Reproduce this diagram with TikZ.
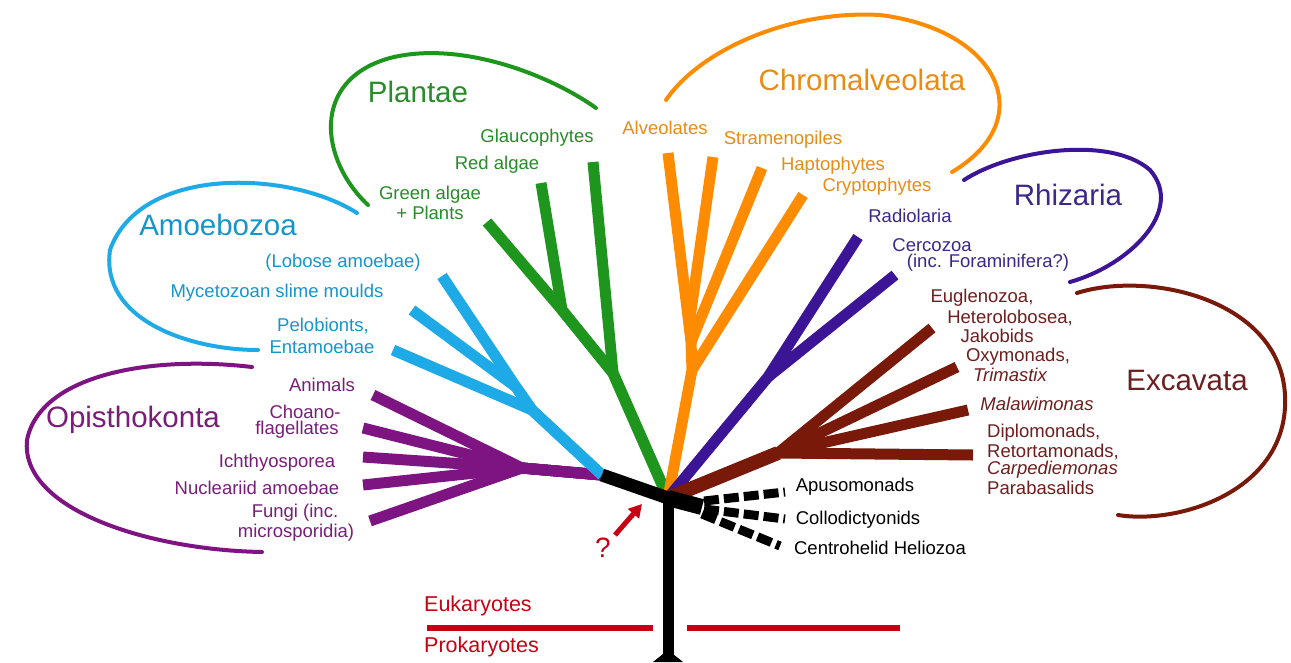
\documentclass[tikz,border=0pt]{standalone}
\usepackage{fontspec}
\setmainfont{Liberation Sans}
\usetikzlibrary{arrows.meta}
\definecolor{cBlue}{RGB}{30,170,230}
\definecolor{tBlue}{RGB}{20,150,205}
\definecolor{cGreen}{RGB}{30,150,30}
\definecolor{tGreen}{RGB}{40,140,40}
\definecolor{cOrange}{RGB}{255,140,0}
\definecolor{tOrange}{RGB}{232,140,20}
\definecolor{cIndigo}{RGB}{60,20,150}
\definecolor{tIndigo}{RGB}{60,40,140}
\definecolor{cBrown}{RGB}{120,25,10}
\definecolor{tBrown}{RGB}{110,30,30}
\definecolor{cPurple}{RGB}{125,20,130}
\definecolor{tPurple}{RGB}{120,30,120}
\definecolor{cRed}{RGB}{200,0,20}
\begin{document}
\begin{tikzpicture}[x=1pt,y=-1pt,
  br/.style={line width=11pt,line join=round},
  cladearc/.style={line width=4pt,line cap=round},
  lab/.style={font=\fontsize{18.5}{18.5}\selectfont,inner sep=0pt},
  itlab/.style={font=\fontsize{18.5}{18.5}\selectfont\itshape,inner sep=0pt},
  big/.style={font=\fontsize{29.5}{30}\selectfont,inner sep=0pt},
  redlab/.style={font=\fontsize{21.5}{22}\selectfont,inner sep=0pt,text=cRed,anchor=west}]
\useasboundingbox (0,0) rectangle (1291,662);
\fill[white] (0,0) rectangle (1291,662);
% coordinates
\coordinate (R) at (668,498);
\coordinate (BL) at (602,475);
\coordinate (T) at (668,662);
\coordinate (PJ) at (522,468);
\coordinate (P1) at (373,395);
\coordinate (P2) at (363,428);
\coordinate (P3) at (363,457);
\coordinate (P4) at (363,485);
\coordinate (P5) at (370,521);
\coordinate (BJ) at (532,410);
\coordinate (MJ) at (516,387);
\coordinate (B1) at (442,276);
\coordinate (B2) at (412,310);
\coordinate (B3) at (393,350);
\coordinate (GJ1) at (613,373);
\coordinate (GJ2) at (562,310);
\coordinate (G1) at (593,162);
\coordinate (G2) at (541,183);
\coordinate (G3) at (487,222);
\coordinate (OJ1) at (692,370);
\coordinate (OJ2) at (691,342);
\coordinate (OJ3) at (689,325);
\coordinate (O1) at (668,153);
\coordinate (O2) at (713,157);
\coordinate (O3) at (762,168);
\coordinate (O4) at (803,195);
\coordinate (IJ) at (768,377);
\coordinate (I1) at (858,237);
\coordinate (I2) at (895,275);
\coordinate (EJ) at (778,453);
\coordinate (E1) at (932,328);
\coordinate (E2) at (957,367);
\coordinate (E3) at (968,410);
\coordinate (E4) at (973,455);
\coordinate (DB) at (702,507);
\coordinate (D1s) at (704,501);
\coordinate (D1e) at (785,492);
\coordinate (D2s) at (704,509);
\coordinate (D2e) at (785,519);
\coordinate (D3s) at (702,514);
\coordinate (D3e) at (780,546);
% purple
\foreach \p in {P1,P2,P3,P4,P5}{\draw[br,cPurple] (\p) -- (PJ) -- (BL);}
% blue
\draw[br,cBlue] (B1) -- (MJ) -- (BJ) -- (BL);
\draw[br,cBlue] (B2) -- (MJ) -- (BJ);
\draw[br,cBlue] (B3) -- (BJ) -- (BL);
% green
\draw[br,cGreen] (G1) -- (GJ1) -- (R);
\draw[br,cGreen] (G2) -- (GJ2) -- (GJ1) -- (R);
\draw[br,cGreen] (G3) -- (GJ2) -- (GJ1);
% orange
\draw[br,cOrange] (O1) -- (OJ3) -- (OJ2) -- (OJ1) -- (R);
\draw[br,cOrange] (O2) -- (OJ3);
\draw[br,cOrange] (O3) -- (OJ2);
\draw[br,cOrange] (O4) -- (OJ1);
% indigo
\draw[br,cIndigo] (I1) -- (IJ) -- (R);
\draw[br,cIndigo] (I2) -- (IJ);
% brown
\draw[line width=14pt,cBrown] (R) -- (EJ);
\foreach \e in {E1,E2,E3,E4}{\draw[br,cBrown] (\e) -- (EJ);}
% black
\draw[line width=13pt,line join=round] (BL) -- (R);
\draw[line width=11pt] (R) -- (T);
\draw[line width=16pt] (R) -- (DB);
\fill (653,662) -- (668,650) -- (683,662) -- cycle;
\foreach \s/\e in {D1s/D1e,D2s/D2e,D3s/D3e}{\draw[line width=9pt,dash pattern=on 15pt off 5pt] (\s) -- (\e);}
% clade arcs
\draw[cladearc,cBlue] (357,213) .. controls (290,170) and (140,165) .. (110,250) .. controls (100,320) and (190,350) .. (258,350);
\draw[cladearc,cGreen] (368,205) .. controls (320,160) and (310,80) .. (390,58) .. controls (460,40) and (550,75) .. (596,108);
\draw[cladearc,cOrange] (666,100) .. controls (700,50) and (790,10) .. (880,15) .. controls (1000,30) and (1040,120) .. (952,172);
\draw[cladearc,cIndigo] (964,180) .. controls (1010,150) and (1110,135) .. (1150,170) .. controls (1185,210) and (1130,265) .. (1070,282);
\draw[cladearc,cBrown] (1077,293) .. controls (1150,270) and (1280,300) .. (1285,395) .. controls (1290,490) and (1180,525) .. (1118,515);
\draw[cladearc,cPurple] (252,367) .. controls (150,355) and (40,375) .. (27,440) .. controls (20,510) and (150,550) .. (262,552);
% big labels
\node[big,tBlue] (amo) at (218,225) {Amoebozoa};
\node[big,tGreen] (pla) at (418,92) {Plantae};
\node[big,tOrange] (chr) at (862,80) {Chromalveolata};
\node[big,tIndigo] (rhi) at (1068,195) {Rhizaria};
\node[big,tBrown] (exc) at (1187,380) {Excavata};
\node[big,tPurple] (opi) at (133,420) {Opisthokonta};
% blue labels
\node[lab,tBlue] (lob) at (343,263) {(Lobose amoebae)};
\node[lab,tBlue] (myc) at (277,293) {Mycetozoan slime moulds};
\node[lab,tBlue] (pel) at (323,326) {Pelobionts,};
\node[lab,tBlue] (ent) at (322,347) {Entamoebae};
% green labels
\node[lab,tGreen] (gla) at (537,138) {Glaucophytes};
\node[lab,tGreen] (red) at (497,165) {Red algae};
\node[lab,tGreen] (gre) at (430,195) {Green algae};
\node[lab,tGreen] (pln) at (430,213) {+ Plants};
% orange labels
\node[lab,tOrange] (alv) at (665,128) {Alveolates};
\node[lab,tOrange] (str) at (783,140) {Stramenopiles};
\node[lab,tOrange] (hap) at (833,166) {Haptophytes};
\node[lab,tOrange] (cry) at (877,187) {Cryptophytes};
% indigo labels
\node[lab,tIndigo] (rad) at (910,216) {Radiolaria};
\node[lab,tIndigo] (cer) at (932,245) {Cercozoa};
\node[lab,tIndigo] (for) at (988,263) {(inc. Foraminifera?)};
% purple labels
\node[lab,tPurple] (ani) at (322,385) {Animals};
\node[lab,tPurple] (cho) at (305,412) {Choano-};
\node[lab,tPurple] (fla) at (297,430) {flagellates};
\node[lab,tPurple] (ich) at (277,463) {Ichthyosporea};
\node[lab,tPurple] (nuc) at (257,488) {Nucleariid amoebae};
\node[lab,tPurple] (fun) at (295,513) {Fungi (inc.};
\node[lab,tPurple] (mic) at (296,533) {microsporidia)};
% brown labels
\node[lab,tBrown] (eug) at (982,298) {Euglenozoa,};
\node[lab,tBrown] (het) at (1010,318) {Heterolobosea,};
\node[lab,tBrown] (jak) at (997,336) {Jakobids};
\node[lab,tBrown] (oxy) at (1018,357) {Oxymonads,};
\node[itlab,tBrown] (tri) at (1010,375) {Trimastix};
\node[itlab,tBrown] (mal) at (1037,404) {Malawimonas};
\node[lab,tBrown,anchor=west] (dip) at (987,433) {Diplomonads,};
\node[lab,tBrown,anchor=west] (ret) at (987,452) {Retortamonads,};
\node[itlab,tBrown,anchor=west] (car) at (987,470) {Carpediemonas};
\node[lab,tBrown,anchor=west] (par) at (987,488) {Parabasalids};
% black labels
\node[lab] (apu) at (855,487) {Apusomonads};
\node[lab] (col) at (858,520) {Collodictyonids};
\node[lab] (cen) at (880,548) {Centrohelid Heliozoa};
% red
\coordinate (ArS) at (615,535);
\coordinate (ArE) at (642,504);
\draw[cRed,line width=5pt,-{Triangle[length=13pt,width=14pt]}] (ArS) -- (ArE);
\node[font=\fontsize{28}{28}\selectfont,cRed,inner sep=0pt] (q) at (603,548) {?};
\draw[cRed,line width=6pt] (427,628) -- (653,628);
\draw[cRed,line width=6pt] (687,628) -- (900,628);
\node[redlab] (euk) at (424,606) {Eukaryotes};
\node[redlab] (pro) at (424,647) {Prokaryotes};
\end{tikzpicture}
\end{document}
